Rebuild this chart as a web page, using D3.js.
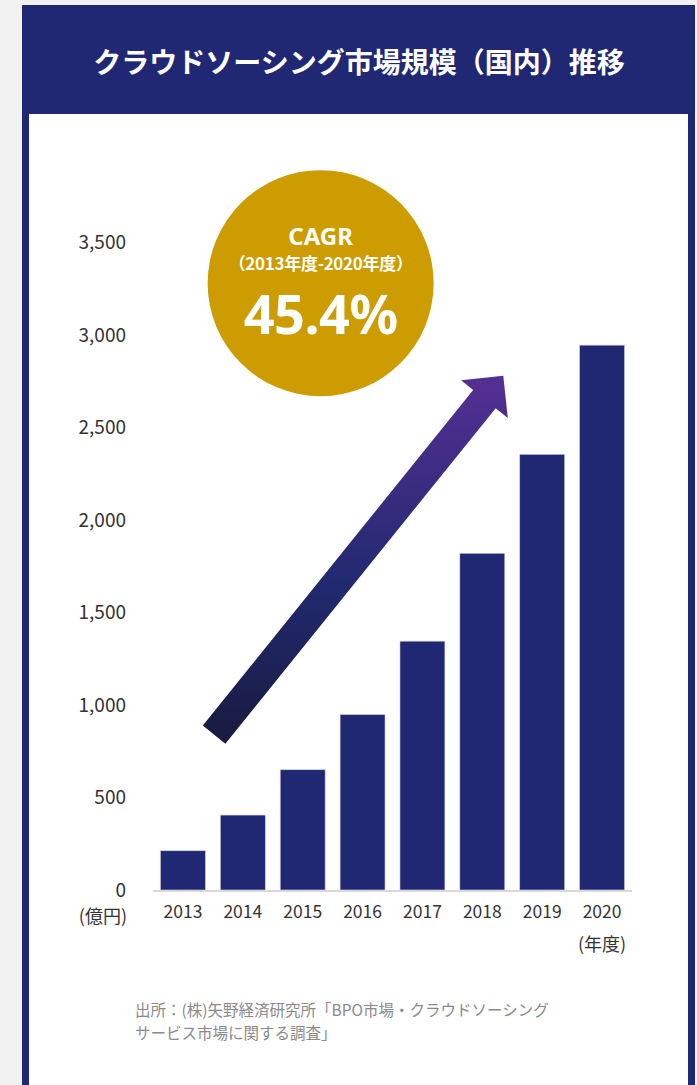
<!DOCTYPE html>
<html>
<head>
<meta charset="utf-8">
<script src="https://cdn.jsdelivr.net/npm/d3@7"></script>
<style>
  html, body { margin: 0; padding: 0; background: #f2f2f2; }
  svg { display: block; font-family: "Noto Sans CJK JP", "Noto Sans", sans-serif; }
</style>
</head>
<body>
<div id="chart"></div>
<script>
// data (億円)
var years = ["2013", "2014", "2015", "2016", "2017", "2018", "2019", "2020"];
var marketSize = [212, 405, 650, 948, 1345, 1820, 2355, 2945];
var yTicks = [0, 500, 1000, 1500, 2000, 2500, 3000, 3500];

var titleText = "クラウドソーシング市場規模（国内）推移";
var cagrLabel = "CAGR";
var cagrPeriod = "（2013年度-2020年度）";
var cagrValue = "45.4%";
var yUnit = "(億円)";
var xUnit = "(年度)";
var sourceLines = ["出所：(株)矢野経済研究所「BPO市場・クラウドソーシング", "サービス市場に関する調査」"];

// arrow + badge placed in chart units (band index, value)
var arrowFrom = {i: 0.52, v: 840};
var arrowTo = {i: 5.35, v: 2780};
var badgeAt = {i: 2.3, v: 3280};

(function() {
  "use strict";

  var W = 697, H = 1085;
  var navy = "#202873";
  var gold = "#cc9c00";

  var svg = d3.select("#chart").append("svg")
      .attr("width", W)
      .attr("height", H);

  // card frame
  svg.append("rect")
      .attr("x", 22).attr("y", 5)
      .attr("width", 673).attr("height", H)
      .attr("fill", navy);
  svg.append("rect")
      .attr("x", 29).attr("y", 114)
      .attr("width", 659).attr("height", H)
      .attr("fill", "#fff");

  svg.append("text")
      .attr("x", 359).attr("y", 61)
      .attr("text-anchor", "middle")
      .attr("dominant-baseline", "central")
      .attr("fill", "#fff")
      .attr("font-size", 28)
      .attr("font-weight", 700)
      .text(titleText);

  // scales
  var x = d3.scaleBand()
      .domain(years)
      .range([153, 632])
      .paddingInner(0.25)
      .paddingOuter(0.125);
  var y = d3.scaleLinear()
      .domain([0, 3500])
      .range([890, 242.5]);

  function idxX(i) {
    return x(years[0]) + x.bandwidth() / 2 + i * x.step();
  }

  var chart = svg.append("g").attr("class", "chart");

  // y axis (labels only)
  var yAxisG = chart.append("g")
      .attr("transform", "translate(153,0)")
      .call(d3.axisLeft(y).tickValues(yTicks).tickSize(0).tickPadding(27).tickFormat(d3.format(",")));
  yAxisG.select(".domain").remove();
  yAxisG.selectAll("text")
      .attr("fill", "#333")
      .attr("font-size", 19)
      .attr("font-family", "'Noto Sans CJK JP', sans-serif");

  // x axis
  var xAxisG = chart.append("g")
      .attr("transform", "translate(0,890)")
      .call(d3.axisBottom(x).tickSize(0).tickPadding(16));
  xAxisG.select(".domain").remove();
  xAxisG.selectAll("text")
      .attr("fill", "#333")
      .attr("font-size", 17.5)
      .attr("font-family", "'Noto Sans CJK JP', sans-serif");

  // bars
  chart.append("g").selectAll("rect")
      .data(marketSize)
      .join("rect")
      .attr("x", function(d, i) { return x(years[i]); })
      .attr("y", function(d) { return y(d); })
      .attr("width", x.bandwidth())
      .attr("height", function(d) { return y(0) - y(d); })
      .attr("fill", navy)
      .attr("stroke", "#c9cbe0")
      .attr("stroke-width", 0.6);

  // baseline
  chart.append("line")
      .attr("x1", x.range()[0]).attr("x2", x.range()[1])
      .attr("y1", y(0) + 1).attr("y2", y(0) + 1)
      .attr("stroke", "#d9d9d9")
      .attr("stroke-width", 2);

  // unit labels
  chart.append("text")
      .attr("x", 127).attr("y", y(0) + 25)
      .attr("text-anchor", "end")
      .attr("dominant-baseline", "central")
      .attr("fill", "#333").attr("font-size", 18)
      .text(yUnit);
  chart.append("text")
      .attr("x", x(years[years.length - 1]) + x.bandwidth() / 2)
      .attr("y", y(0) + 53)
      .attr("text-anchor", "middle")
      .attr("dominant-baseline", "central")
      .attr("fill", "#333").attr("font-size", 18)
      .text(xUnit);

  // growth arrow
  var x0 = idxX(arrowFrom.i), y0 = y(arrowFrom.v);
  var x1 = idxX(arrowTo.i), y1 = y(arrowTo.v);
  var len = Math.hypot(x1 - x0, y1 - y0);
  var ux = (x1 - x0) / len, uy = (y1 - y0) / len;
  var px = -uy, py = ux;
  var shaftW = 29, headL = 30, headW = 60;
  var bx = x1 - ux * headL, by = y1 - uy * headL;
  var pts = [
    [x0 + px * shaftW / 2, y0 + py * shaftW / 2],
    [bx + px * shaftW / 2, by + py * shaftW / 2],
    [bx + px * headW / 2, by + py * headW / 2],
    [x1, y1],
    [bx - px * headW / 2, by - py * headW / 2],
    [bx - px * shaftW / 2, by - py * shaftW / 2],
    [x0 - px * shaftW / 2, y0 - py * shaftW / 2]
  ];

  var grad = svg.append("defs").append("linearGradient")
      .attr("id", "arrowGrad")
      .attr("gradientUnits", "userSpaceOnUse")
      .attr("x1", 0).attr("x2", 0)
      .attr("y1", y0 + 12).attr("y2", y1);
  grad.append("stop").attr("offset", "0%").attr("stop-color", "#191a3e");
  grad.append("stop").attr("offset", "45%").attr("stop-color", "#222a70");
  grad.append("stop").attr("offset", "100%").attr("stop-color", "#552f93");

  chart.append("path")
      .attr("d", "M" + pts.join("L") + "Z")
      .attr("fill", "url(#arrowGrad)");

  // CAGR badge
  var cx = idxX(badgeAt.i), cy = y(badgeAt.v);
  var badge = chart.append("g").attr("transform", "translate(" + cx + "," + cy + ")");
  badge.append("circle").attr("r", 113).attr("fill", gold);
  badge.append("text")
      .attr("y", -38).attr("text-anchor", "middle")
      .attr("fill", "#fff").attr("font-size", 24).attr("font-weight", 700)
      .attr("font-family", "'Noto Sans', sans-serif")
      .text(cagrLabel);
  badge.append("text")
      .attr("y", -13).attr("text-anchor", "middle")
      .attr("fill", "#fff").attr("font-size", 17).attr("font-weight", 700)
      .attr("letter-spacing", -0.3)
      .text(cagrPeriod);
  badge.append("text")
      .attr("y", 51).attr("text-anchor", "middle")
      .attr("fill", "#fff").attr("font-size", 54).attr("font-weight", 700)
      .attr("font-family", "'Noto Sans', sans-serif")
      .attr("letter-spacing", -0.5)
      .text(cagrValue);

  // source note
  svg.append("g").selectAll("text")
      .data(sourceLines)
      .join("text")
      .attr("x", 135)
      .attr("y", function(d, i) { return 1016 + i * 23; })
      .attr("fill", "#8a8a8a")
      .attr("font-size", 15.5)
      .text(function(d) { return d; });
})();
</script>
</body>
</html>
